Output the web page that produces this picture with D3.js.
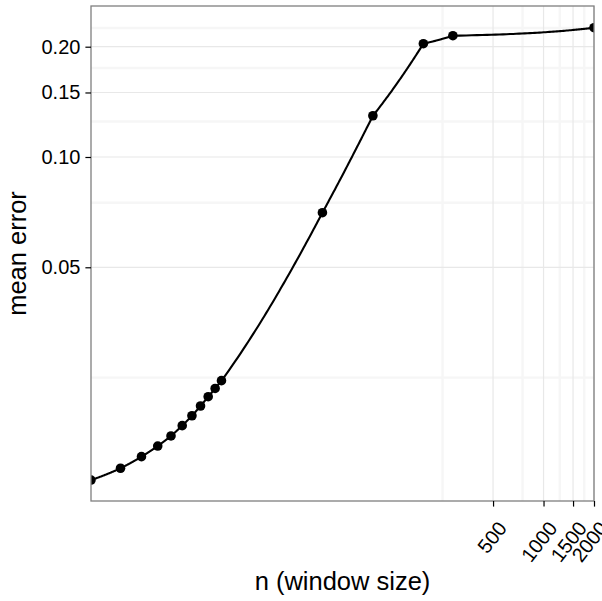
<!DOCTYPE html>
<html><head><meta charset="utf-8">
<script src="https://cdn.jsdelivr.net/npm/d3@7"></script>
<style>
body{margin:0;background:#fff;}
svg text{font-family:"Liberation Sans",Arial,Helvetica,sans-serif;fill:#000;}
</style>
</head><body>
<svg id="chart" width="602" height="601"></svg>
<script>
// ---- data ----
const windowSizes = [2, 3, 4, 5, 6, 7, 8, 9, 10, 11, 12, 48, 96, 192, 288, 2000];
const meanErrors  = [0.01313, 0.01414, 0.01521, 0.01626, 0.01732, 0.01848, 0.01967, 0.02091,
                     0.02217, 0.02335, 0.02452, 0.07047, 0.1296, 0.2038, 0.2143, 0.2254];
const xTicks = [500, 1000, 1500, 2000];
const xTickLabels = ["500", "1000", "1500", "2000"];
const xMinorBreaks = [250, 750, 1250, 1750];
const yTicks = [0.05, 0.10, 0.15, 0.20];
const yTickLabels = ["0.05", "0.10", "0.15", "0.20"];
const yMinorBreaks = [0.025, 0.075, 0.125, 0.175, 0.225];
const xTitle = "n (window size)";
const yTitle = "mean error";

// ---- layout ----
const W = 602, H = 601;
const panel = {left: 91, right: 594, top: 6, bottom: 501};
const tickLen = 5.6;
const tickFont = 20, titleFont = 25.5;
const labelAngle = 52;

const svg = d3.select("#chart");
svg.append("rect").attr("width", W).attr("height", H).attr("fill", "#fff");

const x = d3.scaleLog().domain([2, 2000]).range([panel.left, panel.right]);
const y = d3.scaleLog().domain([0.01151, 0.2583]).range([panel.bottom, panel.top]);

const pts = windowSizes.map((n, i) => ({n, e: meanErrors[i]}));

// clip
svg.append("defs").append("clipPath").attr("id", "clip")
  .append("rect").attr("x", panel.left).attr("y", panel.top)
  .attr("width", panel.right - panel.left).attr("height", panel.bottom - panel.top);

const grid = svg.append("g");
// minor grid
grid.selectAll(".ymin").data(yMinorBreaks).enter().append("line")
  .attr("x1", panel.left).attr("x2", panel.right)
  .attr("y1", d => y(d)).attr("y2", d => y(d))
  .attr("stroke", "#f6f6f6").attr("stroke-width", 2.4);
grid.selectAll(".xmin").data(xMinorBreaks).enter().append("line")
  .attr("y1", panel.top).attr("y2", panel.bottom)
  .attr("x1", d => x(d)).attr("x2", d => x(d))
  .attr("stroke", "#f6f6f6").attr("stroke-width", 2.4);
// major grid
grid.selectAll(".ymaj").data(yTicks).enter().append("line")
  .attr("x1", panel.left).attr("x2", panel.right)
  .attr("y1", d => y(d)).attr("y2", d => y(d))
  .attr("stroke", "#e8e8e8").attr("stroke-width", 1.2);
grid.selectAll(".xmaj").data(xTicks).enter().append("line")
  .attr("y1", panel.top).attr("y2", panel.bottom)
  .attr("x1", d => x(d)).attr("x2", d => x(d))
  .attr("stroke", "#e8e8e8").attr("stroke-width", 1.2);

// line: straight in linear data space, then transformed (coord_trans style)
const path = [];
for (let i = 0; i < pts.length - 1; i++) {
  const a = pts[i], b = pts[i + 1];
  const steps = 60;
  for (let k = (i === 0 ? 0 : 1); k <= steps; k++) {
    const t = k / steps;
    path.push([a.n + (b.n - a.n) * t, a.e + (b.e - a.e) * t]);
  }
}
const lineGen = d3.line().x(d => x(d[0])).y(d => y(d[1]));
const plot = svg.append("g").attr("clip-path", "url(#clip)");
plot.append("path").attr("d", lineGen(path))
  .attr("fill", "none").attr("stroke", "#000").attr("stroke-width", 2.1)
  .attr("stroke-linejoin", "round");
plot.selectAll("circle").data(pts).enter().append("circle")
  .attr("cx", d => x(d.n)).attr("cy", d => y(d.e)).attr("r", 4.8).attr("fill", "#000");

// border
svg.append("rect").attr("x", panel.left).attr("y", panel.top)
  .attr("width", panel.right - panel.left).attr("height", panel.bottom - panel.top)
  .attr("fill", "none").attr("stroke", "#7f7f7f").attr("stroke-width", 1.3);

// y axis
const yAxis = d3.axisLeft(y).tickValues(yTicks)
  .tickFormat((d, i) => yTickLabels[i]).tickSize(tickLen).tickPadding(5);
const gy = svg.append("g").attr("transform", `translate(${panel.left},0)`).call(yAxis);
gy.select(".domain").remove();
gy.selectAll(".tick line").attr("stroke", "#000").attr("stroke-width", 1.2);
gy.selectAll(".tick text").attr("font-size", tickFont).attr("fill", "#000")
  .style("font-family", '"Liberation Sans",Arial,sans-serif');

// x axis
const xAxis = d3.axisBottom(x).tickValues(xTicks)
  .tickFormat((d, i) => xTickLabels[i]).tickSize(tickLen).tickPadding(8);
const gx = svg.append("g").attr("transform", `translate(0,${panel.bottom})`).call(xAxis);
gx.select(".domain").remove();
gx.selectAll(".tick line").attr("stroke", "#000").attr("stroke-width", 1.2);
gx.selectAll(".tick text")
  .attr("font-size", tickFont).attr("fill", "#000")
  .style("font-family", '"Liberation Sans",Arial,sans-serif')
  .attr("text-anchor", "end")
  .attr("x", 0).attr("y", 0).attr("dy", "0.72em")
  .attr("transform", `translate(3,${tickLen + 13}) rotate(${-labelAngle})`);

// titles
svg.append("text").attr("x", (panel.left + panel.right) / 2).attr("y", 590)
  .attr("text-anchor", "middle").attr("font-size", titleFont).text(xTitle);
svg.append("text").attr("transform", `translate(26,${(panel.top + panel.bottom) / 2}) rotate(-90)`)
  .attr("text-anchor", "middle").attr("font-size", titleFont).text(yTitle);
</script>
</body></html>
